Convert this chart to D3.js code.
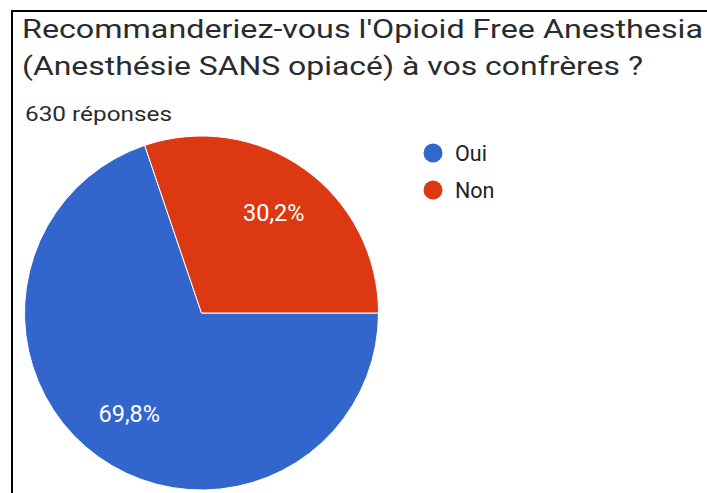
<!DOCTYPE html>
<html>
<head>
<meta charset="utf-8">
<script src="https://cdn.jsdelivr.net/npm/d3@7"></script>
<style>
  body { margin: 0; background: #fff; }
  svg { display: block; }
  text { font-family: Roboto, "Open Sans", sans-serif; }
</style>
</head>
<body>
<div class="chart_container"></div>
<script>
// data
const categories = ["Oui", "Non"];
const values = [69.8, 30.2];
const colors = ["#3366cc", "#dc3912"];
const titleLines = ["Recommanderiez-vous l'Opioid Free Anesthesia", "(Anesthésie SANS opiacé) à vos confrères ?"];
const responses = "630 réponses";

document.addEventListener("DOMContentLoaded", () => {
    const width = 707;
    const height = 493;

    const svg = d3.select(".chart_container").append("svg").attr("width", width).attr("height", height);

    // frame (left + top edge of the screenshot)
    svg.append("path").attr("d", `M12,${height} V11 H${width}`).attr("fill", "none").attr("stroke", "#000").attr("stroke-width", 2);

    // title
    const titleWidths = [681, 621];
    svg.selectAll(".title")
        .data(titleLines)
        .enter()
        .append("text")
        .attr("class", "title")
        .attr("x", 22)
        .attr("y", (d, i) => 38 + i * 37)
        .attr("textLength", (d, i) => titleWidths[i])
        .attr("lengthAdjust", "spacingAndGlyphs")
        .attr("font-size", 25)
        .attr("fill", "#2a2b2e")
        .text((d) => d);

    svg.append("text")
        .attr("x", 25)
        .attr("y", 121)
        .attr("font-size", 21)
        .attr("textLength", 147)
        .attr("lengthAdjust", "spacingAndGlyphs")
        .attr("fill", "#2a2b2e")
        .text(responses);

    // pie
    const cx = 201.5;
    const cy = 313;
    const radius = 177;
    const pie = d3.pie().sort(null).startAngle(Math.PI / 2).endAngle(Math.PI / 2 + 2 * Math.PI);
    const arcs = pie(values);
    const arc = d3.arc().innerRadius(0).outerRadius(radius);
    const labelArc = d3.arc().innerRadius(radius * 0.7).outerRadius(radius * 0.7);

    const g = svg.append("g").attr("transform", `translate(${cx},${cy})`);
    g.selectAll("path")
        .data(arcs)
        .enter()
        .append("path")
        .attr("d", arc)
        .attr("fill", (d, i) => colors[i])
        .attr("stroke", "#fff")
        .attr("stroke-width", 1);

    const fr = d3.formatLocale({ decimal: ",", thousands: " ", grouping: [3], currency: ["", " €"] });
    const fmt = fr.format(".1f");
    g.selectAll(".lbl")
        .data(arcs)
        .enter()
        .append("text")
        .attr("class", "lbl")
        .attr("transform", (d) => `translate(${labelArc.centroid(d)})`)
        .attr("text-anchor", "middle")
        .attr("dy", "0.35em")
        .attr("font-size", 23.5)
        .attr("fill", "#fff")
        .text((d) => fmt(d.data) + "%");

    // legend
    const legend = svg.selectAll(".legend")
        .data(categories)
        .enter()
        .append("g")
        .attr("class", "legend")
        .attr("transform", (d, i) => `translate(433,${153 + i * 37})`);
    legend.append("circle").attr("r", 9.5).attr("fill", (d, i) => colors[i]);
    legend.append("text")
        .attr("x", 22)
        .attr("dy", "0.35em")
        .attr("font-size", 21.5)
        .attr("fill", "#222")
        .text((d) => d);
});
</script>
</body>
</html>
